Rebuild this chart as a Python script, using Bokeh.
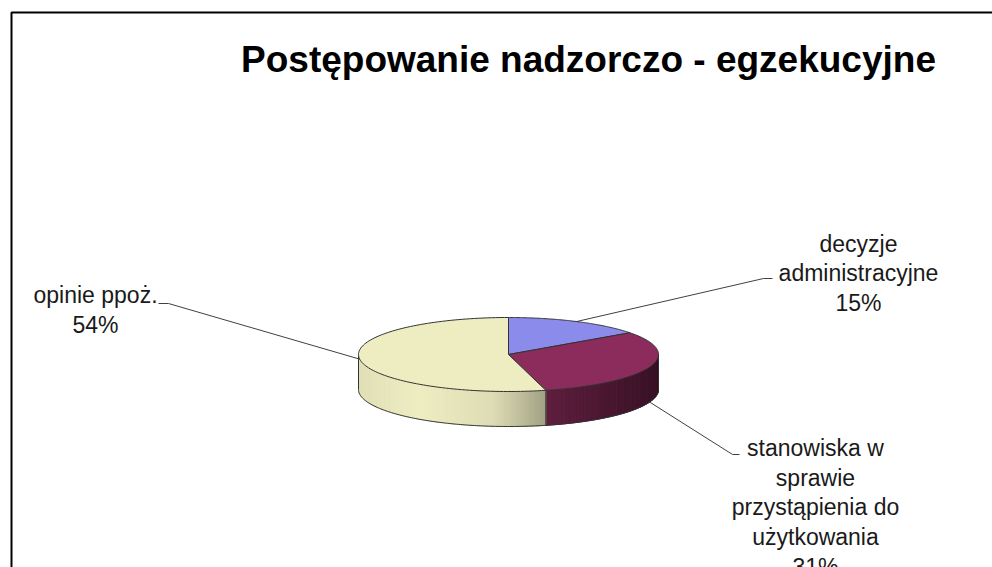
import numpy as np
from bokeh.plotting import figure
from bokeh.models import Range1d
from bokeh.core.properties import value
from bokeh.embed import file_html
from bokeh.resources import INLINE

# ---- data ----
title_text = "Postępowanie nadzorczo - egzekucyjne"
categories = ["decyzje\nadministracyjne",
              "stanowiska w\nsprawie\nprzystąpienia do\nużytkowania",
              "opinie ppoż."]
shares = [15, 31, 54]
pct_labels = ["15%", "31%", "54%"]

# ---- style / layout ----
top_colors = ["#8B8BEB", "#8C2C5C", "#EEEDC2"]
W, H = 992, 567
CX, CY, RX, RY, DEPTH = 508, 354, 150, 37, 35
label_pos = [(858, 273), (815, 507), (95, 309.5)]
elbow = [(763, 278), (732, 454), (168, 303)]
elbow_end = [(772, 278), (739, 454), (158, 303)]
attach_bottom = [False, True, False]
FONT = "Liberation Sans"

p = figure(width=W, height=H, output_backend="svg", toolbar_location=None,
           x_range=Range1d(0, W), y_range=Range1d(H, 0), min_border=0)
p.axis.visible = False
p.grid.visible = False
p.outline_line_color = None
p.background_fill_color = "white"

# chart border (top & left visible only)
p.line([11, 11, 3000], [3000, 12, 12], line_color="black", line_width=2)


def ell(t_deg, dy=0.0):
    t = np.radians(t_deg)
    return CX + RX * np.cos(t), CY - RY * np.sin(t) + dy


def hex_to_rgb(h):
    h = h.lstrip("#")
    return [int(h[i:i + 2], 16) for i in (0, 2, 4)]


def shade(col, f):
    r, g, b = hex_to_rgb(col)
    return "#%02x%02x%02x" % tuple(max(0, min(255, int(round(c * f)))) for c in (r, g, b))


def shade_factor(c):
    return float(np.interp(c, [-1.0, -0.6, -0.1, 0.25, 1.0], [0.94, 1.0, 0.93, 0.68, 0.40]))


total = float(sum(shares))
cum = np.concatenate([[0.0], np.cumsum(shares)]) / total * 360.0
t_start = 90.0 - cum[:-1]
t_end = 90.0 - cum[1:]

# ---- side walls (front half) ----
sx, sy, sc = [], [], []
edge_ts = []
for i in range(len(shares)):
    a, b = t_end[i], t_start[i]
    for off in (-360.0, 0.0, 360.0):
        lo, hi = max(a, -180.0 + off), min(b, 0.0 + off)
        if hi > lo:
            ts = np.linspace(lo, hi, int(np.ceil(hi - lo)) + 1)
            for k in range(len(ts) - 1):
                t0, t1 = ts[k], ts[k + 1]
                x0, y0 = ell(t0)
                x1, y1 = ell(t1)
                sx.append([x0, x1, x1, x0])
                sy.append([y0, y1, y1 + DEPTH, y0 + DEPTH])
                c = np.cos(np.radians((t0 + t1) / 2))
                sc.append(shade(top_colors[i], shade_factor(c)))
            edge_ts.extend([lo, hi])
p.patches(sx, sy, fill_color=sc, line_color=sc, line_width=1)

# side outlines
tb = np.linspace(-180, 0, 200)
bx, by = ell(tb, DEPTH)
p.line(bx, by, line_color="#333333", line_width=1)
for t in sorted(set(np.round(edge_ts, 4))):
    x0, y0 = ell(t)
    p.line([x0, x0], [y0, y0 + DEPTH], line_color="#333333", line_width=1)

# ---- top faces ----
tx, ty = [], []
for i in range(len(shares)):
    ts = np.linspace(t_start[i], t_end[i], 120)
    x, y = ell(ts)
    tx.append([CX] + list(x))
    ty.append([CY] + list(y))
p.patches(tx, ty, fill_color=top_colors, line_color="#333333", line_width=1)

# ---- leader lines & labels ----
for i in range(len(shares)):
    mid = (t_start[i] + t_end[i]) / 2
    x0, y0 = ell(mid, DEPTH if attach_bottom[i] else 0)
    p.line([x0, elbow[i][0], elbow_end[i][0]], [y0, elbow[i][1], elbow_end[i][1]],
           line_color="#404040", line_width=1)

p.text(x=[lp[0] for lp in label_pos], y=[lp[1] for lp in label_pos],
       text=[c + "\n" + pc for c, pc in zip(categories, pct_labels)],
       text_font=value(FONT), text_font_size="23px", text_color="#1a1a1a",
       text_align="center", text_baseline="middle", text_line_height=1.15)

p.text(x=[588], y=[59], text=[title_text], text_font=value(FONT),
       text_font_size="37px", text_font_style="bold", text_color="black",
       text_align="center", text_baseline="middle")

open("out.html", "w").write(file_html(p, INLINE))
